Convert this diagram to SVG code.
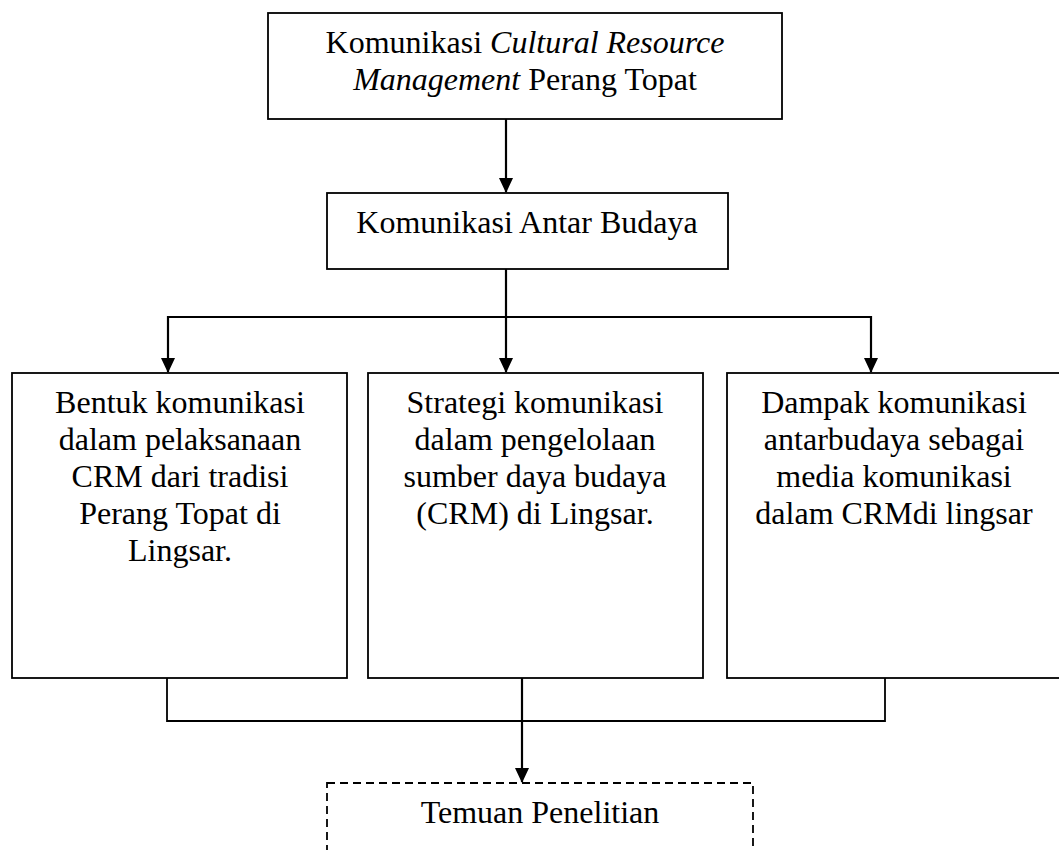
<svg xmlns="http://www.w3.org/2000/svg" width="1059" height="850" viewBox="0 0 1059 850">
<style>
.box{fill:#fff;stroke:#000;stroke-width:1.8}
.dash{fill:none;stroke:#000;stroke-width:1.8;stroke-dasharray:8 5}
.ln{fill:none;stroke:#000;stroke-width:1.8}
.ar{fill:none;stroke:#000;stroke-width:2.2}
text{font-family:"Liberation Serif","Times New Roman",serif;font-size:32px;fill:#000;text-anchor:middle}
.i{font-style:italic}
</style>
<defs>
<marker id="ad" markerWidth="15" markerHeight="15" refX="14" refY="7.5" orient="auto" markerUnits="userSpaceOnUse" viewBox="0 0 15 15">
<path d="M0,0.5 L15,7.5 L0,14.5 Z" fill="#000"/>
</marker>
</defs>
<g id="connectors">
<line class="ar" x1="506" y1="119" x2="506" y2="192" marker-end="url(#ad)"/>
<line class="ar" x1="506" y1="269" x2="506" y2="317"/>
<line class="ar" x1="168" y1="317" x2="871" y2="317"/>
<line class="ar" x1="168" y1="316" x2="168" y2="372" marker-end="url(#ad)"/>
<line class="ar" x1="506" y1="316" x2="506" y2="372" marker-end="url(#ad)"/>
<line class="ar" x1="871" y1="316" x2="871" y2="372" marker-end="url(#ad)"/>
<polyline class="ln" points="167,678 167,721 885,721 885,678"/>
<line class="ar" x1="522" y1="678" x2="522" y2="782" marker-end="url(#ad)"/>
</g>
<g id="node-top">
<rect class="box" x="268" y="13" width="514" height="106" stroke-width="2.2"/>
<text x="525" y="53">Komunikasi <tspan class="i">Cultural Resource</tspan></text>
<text x="525" y="90"><tspan class="i">Management</tspan> Perang Topat</text>
</g>
<g id="node-antarbudaya">
<rect class="box" x="327" y="193" width="401" height="76"/>
<text x="527" y="233">Komunikasi Antar Budaya</text>
</g>
<g id="node-bentuk">
<rect class="box" x="12" y="373" width="335" height="305"/>
<text x="180" y="413">Bentuk komunikasi</text>
<text x="180" y="450">dalam pelaksanaan</text>
<text x="180" y="487">CRM dari tradisi</text>
<text x="180" y="524">Perang Topat di</text>
<text x="180" y="561">Lingsar.</text>
</g>
<g id="node-strategi">
<rect class="box" x="368" y="373" width="335" height="305"/>
<text x="535" y="413">Strategi komunikasi</text>
<text x="535" y="450">dalam pengelolaan</text>
<text x="535" y="487">sumber daya budaya</text>
<text x="535" y="524">(CRM) di Lingsar.</text>
</g>
<g id="node-dampak">
<rect class="box" x="727" y="373" width="336" height="305"/>
<text x="894" y="413">Dampak komunikasi</text>
<text x="894" y="450">antarbudaya sebagai</text>
<text x="894" y="487">media komunikasi</text>
<text x="894" y="524">dalam CRMdi lingsar</text>
</g>
<g id="node-temuan">
<rect class="dash" x="327" y="783" width="426" height="90"/>
<text x="540" y="823">Temuan Penelitian</text>
</g>
</svg>
